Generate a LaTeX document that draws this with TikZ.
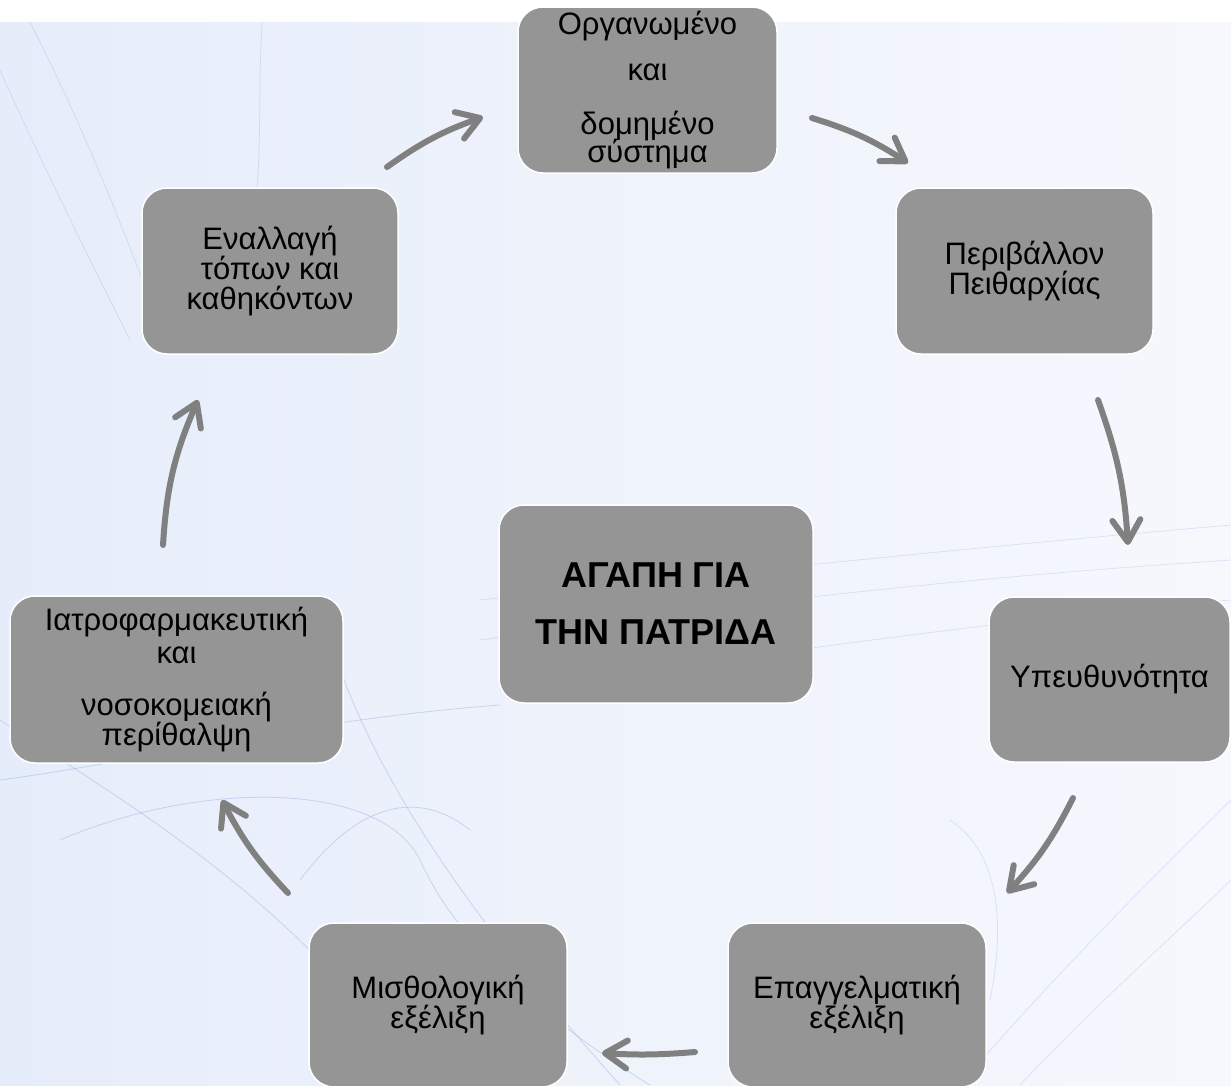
\documentclass[tikz,border=0pt]{standalone}
\usepackage{fontspec}
\setmainfont{Liberation Sans}
\usetikzlibrary{arrows.meta,calc,positioning}
\definecolor{boxgray}{RGB}{149,149,149}
\definecolor{arrgray}{RGB}{128,128,128}
\definecolor{bgleft}{RGB}{230,237,250}
\definecolor{bgright}{RGB}{246,248,253}
\definecolor{swirl}{RGB}{110,145,220}

\begin{document}
\begin{tikzpicture}
[x=1pt,y=-1pt,
 box/.style = {draw=white, line width=1.5pt, fill=boxgray, rounded corners=25pt,
   inner sep=0pt, align=center, text=black, font=\fontsize{31pt}{30pt}\selectfont},
 arr/.style = {draw=arrgray, line width=6pt, line cap=round,
   -{Straight Barb[length=22pt,width=28pt,line cap=round,line join=round]}},
 streak/.style = {draw=swirl, line width=0.8pt, opacity=0.3}]
\useasboundingbox (0,0) rectangle (1231,1085);
\fill[white] (0,0) rectangle (1231,1085);
\shade[left color=bgleft, right color=bgright] (0,22) rectangle (1231,1085);
% background lines
\draw[streak,opacity=0.2] (262,22) .. controls (258,90) and (262,150) .. (255,210);
\draw[streak,opacity=0.2] (0,70) .. controls (40,160) and (90,260) .. (130,340);
\draw[streak,opacity=0.2] (30,22) .. controls (80,120) and (120,220) .. (150,300);
\draw[streak,opacity=0.2] (480,600) .. controls (750,570) and (1000,545) .. (1231,525);
\draw[streak,opacity=0.2] (480,640) .. controls (750,600) and (1000,575) .. (1231,560);
\draw[streak,opacity=0.2] (500,690) .. controls (800,650) and (1000,620) .. (1231,600);
\draw[streak] (0,780) .. controls (150,760) and (300,720) .. (500,705);
\draw[streak] (0,720) .. controls (120,800) and (300,900) .. (420,1085);
\draw[streak] (60,840) .. controls (200,780) and (380,780) .. (420,860) .. controls (460,950) and (560,1030) .. (650,1085);
\draw[streak] (330,640) .. controls (380,800) and (500,950) .. (620,1085);
\draw[streak] (300,880) .. controls (360,800) and (420,790) .. (470,830);
\draw[streak,opacity=0.2] (960,1085) .. controls (1050,980) and (1150,880) .. (1231,800);
\draw[streak,opacity=0.2] (1020,1085) .. controls (1100,1000) and (1180,930) .. (1231,880);
\draw[streak,opacity=0.2] (950,820) .. controls (1010,860) and (1000,950) .. (990,1000);
% boxes
\node (org) at (647.5,90)[box,minimum width=259pt,minimum height=166pt]
  {Οργανωμένο\\[16pt]και\\[24pt]δομημένο\\[-2pt]σύστημα};
\node (peri) at (1024.5,271)[box,minimum width=257pt,minimum height=166pt]
  {Περιβάλλον\\Πειθαρχίας};
\node (ypeu) at (1109.5,679.5)[box,minimum width=241pt,minimum height=165pt]
  {Υπευθυνότητα};
\node (epag) at (857,1005)[box,minimum width=258pt,minimum height=164pt]
  {Επαγγελματική\\εξέλιξη};
\node (mistho) at (438,1005)[box,minimum width=258pt,minimum height=164pt]
  {Μισθολογική\\εξέλιξη};
\node (iatro) at (176.5,679.5)[box,minimum width=333pt,minimum height=167pt]
  {Ιατροφαρμακευτική\\[3pt]και\\[22pt]νοσοκομειακή\\περίθαλψη};
\node (enal) at (270,271)[box,minimum width=256pt,minimum height=166pt]
  {Εναλλαγή\\τόπων και\\καθηκόντων};
\node (agapi) at (656,604)[box,minimum width=314pt,minimum height=198pt,
  font=\fontsize{36pt}{36pt}\selectfont\bfseries]
  {ΑΓΑΠΗ ΓΙΑ\\[21pt]ΤΗΝ ΠΑΤΡΙΔΑ};
% arrow ends
\coordinate (s1) at (387,167);  \coordinate (t1) at (483,117);
\coordinate (s2) at (812,118);  \coordinate (t2) at (908,163);
\coordinate (s3) at (1098,400); \coordinate (t3) at (1128,545);
\coordinate (s4) at (1073,798); \coordinate (t4) at (1007,893);
\coordinate (s5) at (695,1052); \coordinate (t5) at (602,1053);
\coordinate (s6) at (288,893);  \coordinate (t6) at (222,800);
\coordinate (s7) at (163,545);  \coordinate (t7) at (198,400);
\draw[arr] (s1) to[bend left=8] (t1);
\draw[arr] (s2) to[bend left=8] (t2);
\draw[arr] (s3) to[bend left=8] (t3);
\draw[arr] (s4) to[bend left=8] (t4);
\draw[arr] (s5) to[bend left=4] (t5);
\draw[arr] (s6) to[bend left=8] (t6);
\draw[arr] (s7) to[bend left=10] (t7);
\end{tikzpicture}
\end{document}
